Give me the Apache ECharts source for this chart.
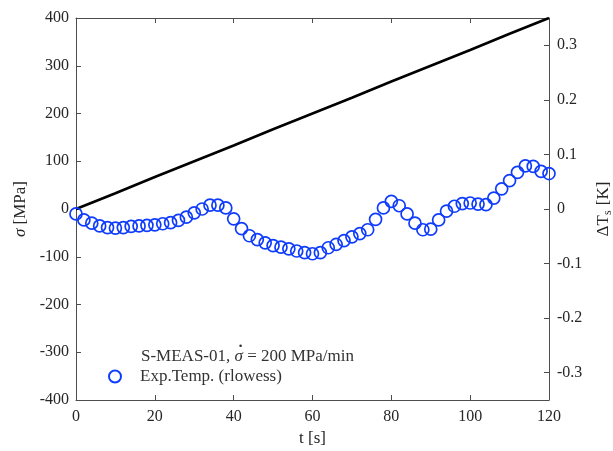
<!DOCTYPE html>
<html>
<head>
<meta charset="utf-8">
<script src="https://cdn.jsdelivr.net/npm/echarts@6/dist/echarts.min.js"></script>
<style>
html,body{margin:0;padding:0;background:#fff;}
#chart{width:613px;height:451px;}
</style>
</head>
<body>
<div id="chart"></div>
<script>
// Time (s) for stress line
var stressTime = [0, 10, 20, 30, 40, 50, 60, 70, 80, 90, 100, 110, 120];
// Stress (MPa)
var stressValues = [0, 33, 67, 100, 133, 167, 200, 233, 267, 300, 333, 367, 400];
// Time (s) for temperature markers
var tempTime = [0,2,4,6,8,10,12,14,16,18,20,22,24,26,28,30,32,34,36,38,40,42,44,46,48,50,52,54,56,58,60,62,64,66,68,70,72,74,76,78,80,82,84,86,88,90,92,94,96,98,100,102,104,106,108,110,112,114,116,118,120];
// Temperature change (K)
var tempValues = [-0.009,-0.020,-0.026,-0.031,-0.034,-0.035,-0.034,-0.032,-0.031,-0.030,-0.029,-0.027,-0.025,-0.021,-0.015,-0.007,0.000,0.007,0.007,0.002,-0.018,-0.036,-0.049,-0.056,-0.062,-0.067,-0.070,-0.073,-0.077,-0.080,-0.082,-0.080,-0.071,-0.065,-0.058,-0.051,-0.045,-0.038,-0.019,0.002,0.014,0.006,-0.009,-0.026,-0.038,-0.037,-0.020,-0.004,0.005,0.010,0.011,0.009,0.008,0.020,0.037,0.052,0.067,0.079,0.078,0.069,0.065];
// Tick labels
var xTicks = [0, 20, 40, 60, 80, 100, 120];
var leftTicks = [-400, -300, -200, -100, 0, 100, 200, 300, 400];
var rightTicks = [-0.3, -0.2, -0.1, 0, 0.1, 0.2, 0.3];
// Legend texts
var legendHead = ['S-MEAS-01, ', 'σ', ' = 200 MPa/min'];
var legendName = 'Exp.Temp. (rlowess)';

var FONT = '"Liberation Serif", "DejaVu Serif", serif';
var AX = '#4d4d4d';
var TXT = '#262626';
var LEGTXT = '#333';
var BLUE = '#0f3cfc';
var LFS = 17;

// measure text widths for placing the legend header pieces
var mctx = document.createElement('canvas').getContext('2d');
function tw(t, italic) {
  mctx.font = (italic ? 'italic ' : '') + LFS + 'px ' + FONT;
  return mctx.measureText(t).width;
}
var hx = 141, hy = 348;
var wA = tw(legendHead[0], false);
var wS = tw(legendHead[1], true);

var chart = echarts.init(document.getElementById('chart'), null, {renderer: 'canvas'});
var lineData = stressTime.map(function (t, i) { return [t, stressValues[i]]; });
var tempData = tempTime.map(function (t, i) { return [t, tempValues[i]]; });

var option = {
  animation: false,
  backgroundColor: '#fff',
  grid: {left: 76, right: 64, top: 18, bottom: 51, containLabel: false, outerBoundsMode: 'none'},
  xAxis: [{
    type: 'value', min: 0, max: 120, interval: 20, position: 'bottom',
    name: 't [s]', nameLocation: 'middle', nameGap: 21,
    nameTextStyle: {fontFamily: FONT, fontSize: 17, color: TXT},
    axisLine: {show: true, onZero: false, lineStyle: {color: AX, width: 1}},
    axisTick: {show: true, inside: true, length: 5, lineStyle: {color: AX}},
    axisLabel: {fontFamily: FONT, fontSize: 16, color: TXT, margin: 9,
      customValues: xTicks},
    splitLine: {show: false}
  }, {
    type: 'value', min: 0, max: 120, interval: 20, position: 'top',
    axisLine: {show: true, onZero: false, lineStyle: {color: AX, width: 1}},
    axisTick: {show: true, inside: true, length: 5, lineStyle: {color: AX}},
    axisLabel: {show: false},
    splitLine: {show: false}
  }],
  yAxis: [{
    type: 'value', min: -400, max: 400, interval: 100, position: 'left',
    name: '{i|σ} [MPa]', nameLocation: 'middle', nameGap: 44, nameRotate: 90,
    nameTextStyle: {fontFamily: FONT, fontSize: 17, color: TXT,
      rich: {i: {fontFamily: FONT, fontSize: 17, fontStyle: 'italic', color: TXT}}},
    axisLine: {show: true, onZero: false, lineStyle: {color: AX, width: 1}},
    axisTick: {show: true, inside: true, length: 5, lineStyle: {color: AX}},
    axisLabel: {fontFamily: FONT, fontSize: 16, color: TXT, margin: 7,
      customValues: leftTicks},
    splitLine: {show: false}
  }, {
    type: 'value', min: -0.35, max: 0.35, position: 'right',
    name: 'ΔT{s|s} [K]', nameLocation: 'middle', nameGap: 44, nameRotate: 90,
    nameTextStyle: {fontFamily: FONT, fontSize: 17, color: TXT,
      rich: {s: {fontFamily: FONT, fontSize: 12, color: TXT, padding: [9, 1, 0, 0]}}},
    axisLine: {show: true, onZero: false, lineStyle: {color: AX, width: 1}},
    axisTick: {show: true, inside: true, length: 5, lineStyle: {color: AX},
      customValues: rightTicks},
    axisLabel: {fontFamily: FONT, fontSize: 16, color: TXT, margin: 8,
      customValues: rightTicks,
      formatter: function (v) { return String(Math.round(v * 10) / 10); }},
    splitLine: {show: false}
  }],
  legend: {
    show: true, orient: 'vertical', left: 103, top: 363,
    itemWidth: 22, itemHeight: 12, itemGap: 4,
    textStyle: {fontFamily: FONT, fontSize: LFS, color: LEGTXT, padding: [0, 0, 0, 9]},
    data: [{name: legendName, icon: 'circle',
      itemStyle: {color: 'transparent', borderColor: BLUE, borderWidth: 2}}]
  },
  graphic: [{
    type: 'text', left: hx, top: hy,
    style: {text: legendHead[0], font: LFS + 'px ' + FONT, fill: LEGTXT}
  }, {
    type: 'text', left: hx + wA, top: hy,
    style: {text: legendHead[1], font: 'italic ' + LFS + 'px ' + FONT, fill: LEGTXT}
  }, {
    type: 'text', left: hx + wA + wS / 2 - 1, top: hy - 5,
    style: {text: '˙', font: 'bold ' + LFS + 'px ' + FONT, fill: LEGTXT}
  }, {
    type: 'text', left: hx + wA + wS, top: hy,
    style: {text: legendHead[2], font: LFS + 'px ' + FONT, fill: LEGTXT}
  }],
  series: [{
    name: 'Stress', type: 'line', xAxisIndex: 0, yAxisIndex: 0,
    data: lineData, showSymbol: false, symbol: 'none',
    lineStyle: {color: '#000', width: 2.6}, z: 2
  }, {
    name: legendName, type: 'scatter', xAxisIndex: 0, yAxisIndex: 1,
    data: tempData, symbol: 'circle', symbolSize: 12,
    itemStyle: {color: 'transparent', borderColor: BLUE, borderWidth: 1.7, opacity: 1},
    z: 3
  }]
};
chart.setOption(option);
</script>
</body>
</html>
